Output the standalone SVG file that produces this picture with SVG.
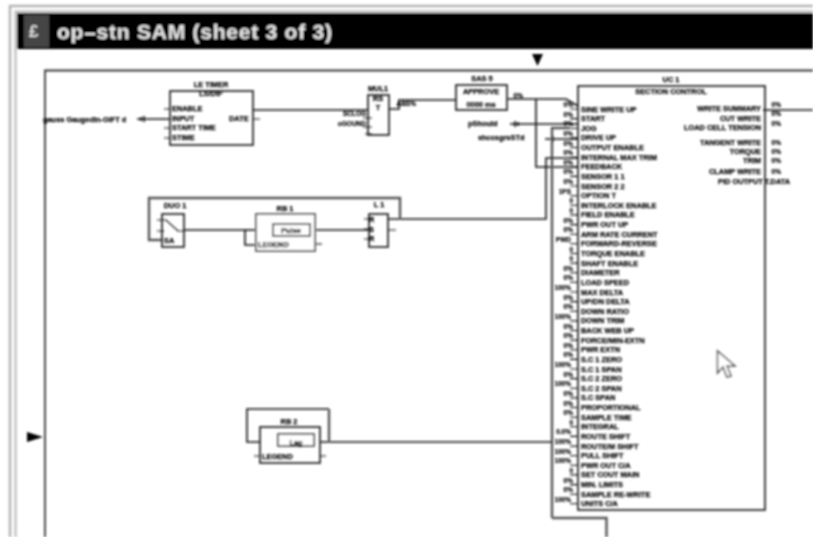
<svg xmlns="http://www.w3.org/2000/svg" width="813" height="537" viewBox="0 0 813 537">
<defs>
<style>
text{font-family:"Liberation Sans",Arial,sans-serif;fill:#000}
.t{font-size:7.4px;font-weight:bold;stroke:#000;stroke-width:.25}
.e{text-anchor:end}
.m{text-anchor:middle}
.v{font-size:6.5px;font-weight:bold;text-anchor:end;stroke:#000;stroke-width:.2}
.b{fill:none;stroke:#222;stroke-width:1.7}
.g{fill:none;stroke:#555;stroke-width:2.4}
.w{fill:none;stroke:#111;stroke-width:1.6}
.s{fill:none;stroke:#111;stroke-width:1.1}
</style>
<filter id="soft" x="0" y="0" width="813" height="537" filterUnits="userSpaceOnUse"><feGaussianBlur stdDeviation="0.8"/></filter>
</defs>
<rect width="813" height="537" fill="#fff"/>
<g filter="url(#soft)">
<g id="window">
<path d="M10 537V6H813" fill="none" stroke="#b4b4b4" stroke-width="2.5"/>
<path d="M15.500 537V11.500H813" fill="none" stroke="#c4c4c4" stroke-width="2.500"/>
<rect x="17" y="13" width="796" height="36" fill="#060606"/>
<rect x="24" y="15" width="25" height="32" fill="#444"/>
<text x="29" y="37" font-size="17" style="fill:#ddd;font-weight:bold">£</text>
<text x="57" y="39" font-size="21" font-weight="bold" textLength="275" lengthAdjust="spacing" style="fill:#e8e8e8">op–stn SAM (sheet 3 of 3)</text>
</g>
<g id="sheet">
<path d="M813 70.500H45V537" fill="none" stroke="#333" stroke-width="1.800"/>
<path d="M532 54H543L537.500 66Z" fill="#000"/>
<path d="M27 432L43 437L27 442Z" fill="#000"/>
</g>
<g id="connectors">
<path class="w" d="M253 110H368"/>
<path class="w" d="M137 119H170"/>
<path class="w" d="M141 117V121M144 116V122"/>
<path class="w" d="M389 109H399V100H456"/>
<path class="w" d="M508 99H566L578 106"/>
<path class="w" d="M536 99V167H578"/>
<path class="w" d="M510 124H578"/>
<path class="w" d="M515 121V127M518 122V126"/>
<path class="w" d="M545 139H578"/>
<path class="w" d="M553 136V142"/>
<path class="g" d="M552 518V128H570"/>
<path class="g" d="M552 518H606.500V537"/>
<path class="w" d="M388 219H546V158H578"/>
<path class="g" d="M400 219V198H149V240H163"/>
<path class="w" d="M184 230H245V245H256"/>
<path class="w" d="M245 230H256"/>
<path class="w" d="M315 230H369"/>
<path class="w" d="M320 442H552"/>
<path class="w" d="M260 442H247V409H329"/>
<path class="g" d="M329 409V442"/>
<path class="w" d="M763 110H813"/>
</g>
<g id="timer">
<rect class="b" x="170" y="91" width="83" height="54" fill="#fff"/>
<text class="t m" x="211" y="87">LE TIMER</text>
<text class="t m" x="211" y="96">LS/DIF</text>
<text class="t" x="172" y="111">ENABLE</text>
<text class="t" x="172" y="121">INPUT</text>
<text class="t" x="172" y="130">START TIME</text>
<text class="t" x="172" y="140">STIME</text>
<text class="t" x="229" y="121">DATE</text>
<path class="s" d="M164 109H170M164 128H170M164 138H170M253 119H260"/>
<text class="t" x="43" y="122">gauss Gaugedin-GIFT d</text>
</g>
<g id="mul1">
<rect class="b" x="368" y="95" width="21" height="40" fill="#fff"/>
<text class="t m" x="378" y="91">MUL1</text>
<text class="t m" x="378" y="101">RS</text>
<text class="t m" x="378" y="110">T</text>
<text class="v" x="366" y="116">SCLOG</text>
<text class="v" x="366" y="126">oGOUND</text>
<text class="v" x="416" y="106">ABS%</text>
<path class="s" d="M363 118H372M363 127H372M365 134H372"/>
</g>
<g id="amp">
<rect class="b" x="456" y="85" width="51" height="25" fill="#fff"/>
<text class="t m" x="482" y="81">SAS 5</text>
<text class="t m" x="481" y="94">APPROVE</text>
<text class="t m" x="481" y="107">0000 ms</text>
<text class="v" x="523" y="98">0%</text>
<text class="t" x="468" y="126">pShould</text>
<text class="t" x="478" y="140">shccsgrsSTd</text>
</g>
<g id="section-control">
<rect class="b" x="578" y="86" width="187" height="424" fill="none"/>
<text class="t m" x="671" y="82">UC 1</text>
<text class="t m" x="671" y="94">SECTION CONTROL</text>
<text class="t" x="581" y="111.500">SINE WRITE UP</text>
<text class="t" x="581" y="121.100">START</text>
<text class="t" x="581" y="130.800">JOG</text>
<text class="t" x="581" y="140.400">DRIVE UP</text>
<text class="t" x="581" y="150">OUTPUT ENABLE</text>
<text class="t" x="581" y="159.700">INTERNAL MAX TRIM</text>
<text class="t" x="581" y="169.300">FEEDBACK</text>
<text class="t" x="581" y="178.900">SENSOR 1 1</text>
<text class="t" x="581" y="188.500">SENSOR 2 2</text>
<text class="t" x="581" y="198.200">OPTION T</text>
<text class="t" x="581" y="207.800">INTERLOCK ENABLE</text>
<text class="t" x="581" y="217.400">FIELD ENABLE</text>
<text class="t" x="581" y="227.100">PWR OUT UP</text>
<text class="t" x="581" y="236.700">ARM RATE CURRENT</text>
<text class="t" x="581" y="246.300">FORWARD-REVERSE</text>
<text class="t" x="581" y="256">TORQUE ENABLE</text>
<text class="t" x="581" y="265.600">SHAFT ENABLE</text>
<text class="t" x="581" y="275.200">DIAMETER</text>
<text class="t" x="581" y="284.800">LOAD SPEED</text>
<text class="t" x="581" y="294.500">MAX DELTA</text>
<text class="t" x="581" y="304.100">UP/DN DELTA</text>
<text class="t" x="581" y="313.700">DOWN RATIO</text>
<text class="t" x="581" y="323.400">DOWN TRIM</text>
<text class="t" x="581" y="333">BACK WEB UP</text>
<text class="t" x="581" y="342.600">FORCE/MIN-EXTN</text>
<text class="t" x="581" y="352.300">PWR EXTN</text>
<text class="t" x="581" y="361.900">S.C 1 ZERO</text>
<text class="t" x="581" y="371.500">S.C 1 SPAN</text>
<text class="t" x="581" y="381.100">S.C 2 ZERO</text>
<text class="t" x="581" y="390.800">S.C 2 SPAN</text>
<text class="t" x="581" y="400.400">S.C SPAN</text>
<text class="t" x="581" y="410">PROPORTIONAL</text>
<text class="t" x="581" y="419.700">SAMPLE TIME</text>
<text class="t" x="581" y="429.300">INTEGRAL</text>
<text class="t" x="581" y="438.900">ROUTE SHIFT</text>
<text class="t" x="581" y="448.600">ROUTE/M SHIFT</text>
<text class="t" x="581" y="458.200">PULL SHIFT</text>
<text class="t" x="581" y="467.800">PWR OUT C/A</text>
<text class="t" x="581" y="477.400">SET COUT MAIN</text>
<text class="t" x="581" y="487.100">MIN. LIMITS</text>
<text class="t" x="581" y="496.700">SAMPLE RE-WRITE</text>
<text class="t" x="581" y="506.300">UNITS C/A</text>
<path class="s" d="M570 109H578M570 118.600H578M570 128.300H578M570 137.900H578M570 147.500H578M570 157.200H578M570 166.800H578M570 176.400H578M570 186H578M570 195.700H578M570 205.300H578M570 214.900H578M570 224.600H578M570 234.200H578M570 243.800H578M570 253.500H578M570 263.100H578M570 272.700H578M570 282.300H578M570 292H578M570 301.600H578M570 311.200H578M570 320.900H578M570 330.500H578M570 340.100H578M570 349.800H578M570 359.400H578M570 369H578M570 378.600H578M570 388.300H578M570 397.900H578M570 407.500H578M570 417.200H578M570 426.800H578M570 436.400H578M570 446.100H578M570 455.700H578M570 465.300H578M570 474.900H578M570 484.600H578M570 494.200H578M570 503.800H578"/>
<text class="v" x="573" y="107">0%</text><text class="v" x="573" y="116.600">0%</text><text class="v" x="573" y="126.300">0%</text><text class="v" x="573" y="135.900">0%</text><text class="v" x="573" y="145.500">0%</text><text class="v" x="573" y="155.200">0%</text><text class="v" x="573" y="164.800">0%</text><text class="v" x="573" y="174.400">0%</text><text class="v" x="573" y="184">0%</text><text class="v" x="571" y="193.700">1PS</text><text class="v" x="573" y="203.300">0</text><text class="v" x="573" y="212.900">0</text><text class="v" x="573" y="222.600">0%</text><text class="v" x="573" y="232.200">0%</text><text class="v" x="571" y="241.800">PWD</text><text class="v" x="573" y="251.500">0</text><text class="v" x="573" y="261.100">0</text><text class="v" x="573" y="270.700">0%</text><text class="v" x="573" y="280.300">0%</text><text class="v" x="571" y="290">100%</text><text class="v" x="573" y="299.600">0%</text><text class="v" x="573" y="309.200">0%</text><text class="v" x="571" y="318.900">100%</text><text class="v" x="573" y="328.500">0%</text><text class="v" x="573" y="338.100">0%</text><text class="v" x="573" y="347.800">0%</text><text class="v" x="573" y="357.400">0%</text><text class="v" x="571" y="367">100%</text><text class="v" x="573" y="376.600">0%</text><text class="v" x="571" y="386.300">100%</text><text class="v" x="573" y="395.900">0%</text><text class="v" x="573" y="405.500">0%</text><text class="v" x="573" y="415.200">0%</text><text class="v" x="573" y="424.800">0</text><text class="v" x="571" y="434.400">0.0%</text><text class="v" x="571" y="444.100">100%</text><text class="v" x="571" y="453.700">100%</text><text class="v" x="571" y="463.300">100%</text><text class="v" x="573" y="472.900">0</text><text class="v" x="573" y="482.600">0%</text><text class="v" x="573" y="492.200">0%</text><text class="v" x="571" y="501.800">100%</text>
<text class="t e" x="761" y="111">WRITE SUMMARY</text>
<text class="t e" x="761" y="121">CUT WRITE</text>
<text class="t e" x="761" y="130">LOAD CELL TENSION</text>
<text class="t e" x="761" y="145">TANGENT WRITE</text>
<text class="t e" x="761" y="154">TORQUE</text>
<text class="t e" x="761" y="163">TRIM</text>
<text class="t e" x="761" y="174">CLAMP WRITE</text>
<text class="t e" x="790" y="184">PID OUTPUT T.DATA</text>
<text class="v" x="781" y="107">0%</text><text class="v" x="781" y="116">0%</text><text class="v" x="781" y="126">0%</text><text class="v" x="781" y="145">0%</text><text class="v" x="781" y="154">0%</text><text class="v" x="781" y="163">0%</text><text class="v" x="781" y="174">0%</text>
</g>
<g id="sw1">
<rect class="b" x="162" y="214" width="22" height="33" fill="#fff"/>
<text class="t m" x="175" y="208">DUO 1</text>
<path class="s" d="M157 220H166L178 231H184M157 231H164"/>
<text class="t" x="164" y="243">SA</text>
</g>
<g id="fb1">
<rect x="256" y="214" width="59" height="37" fill="#fff" stroke="#666" stroke-width="2"/>
<rect x="273" y="224" width="37" height="12" fill="#fff" stroke="#555" stroke-width="2"/>
<text class="t m" x="291" y="233">Pulse</text>
<text class="t m" x="285" y="211">RB 1</text>
<text class="t" x="258" y="247">LEGEND</text>
<path class="s" d="M315 244H322"/>
</g>
<g id="l1">
<rect class="b" x="369" y="214" width="19" height="33" fill="#fff"/>
<text class="t m" x="379" y="207">L 1</text>
<text class="t" x="369" y="222">R</text><text class="t" x="369" y="232">S</text><text class="t" x="369" y="241">R</text>
<path class="s" d="M364 219H372M364 229H372M364 239H372M388 230H396"/>
</g>
<g id="fb2">
<rect class="b" x="260" y="427" width="60" height="36" fill="#fff"/>
<rect x="278" y="434" width="36" height="12" fill="#fff" stroke="#666" stroke-width="2"/>
<text class="t m" x="296" y="445">Lag</text>
<text class="t m" x="289" y="424">RB 2</text>
<text class="t" x="262" y="459">LEGEND</text>
<path class="s" d="M320 456H326M254 456H260"/>
</g>
<g id="cursor">
<path d="M717.500 351V373L723 367L727 377L731 376L727 366L735 366Z" fill="#fff" stroke="#555" stroke-width="1.500"/>
</g>
</g>
</svg>
